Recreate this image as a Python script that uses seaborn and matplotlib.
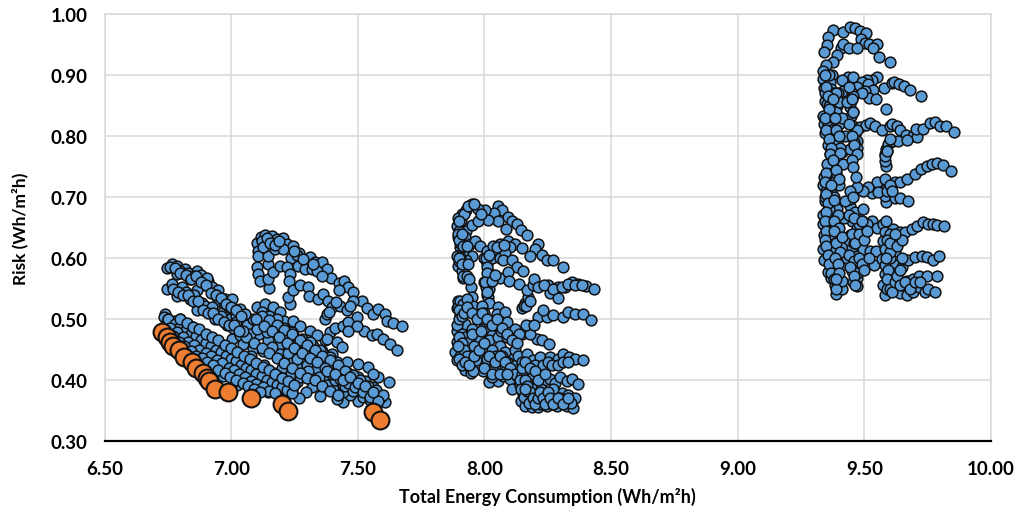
import numpy as np
import pandas as pd
import matplotlib
matplotlib.use("Agg")
import matplotlib.pyplot as plt
import seaborn as sns

# Cluster A, about 7 Wh/m2h: upper block
a_upper_x = [7.101,7.107,7.107,7.116,7.134,7.16,7.182,7.203,7.219,7.245,7.269,7.311,7.331,7.357,7.377,7.393,7.426,7.445,7.462,7.482,7.515,7.535,7.561,7.581,7.607,7.616,7.64,7.673,
 7.103,7.107,7.114,7.151,7.147,7.147,7.147,7.173,7.206,7.235,7.259,7.166,7.193,7.219,7.232,7.23,7.265,7.291,7.318,7.338,7.357,7.427,
 7.232,7.226,7.245,7.272,7.305,7.309,7.344,7.364,7.384,7.12,7.125,7.14,7.155,7.175,7.19,7.25,7.285,7.325]
a_upper_y = [0.625,0.612,0.604,0.634,0.638,0.636,0.631,0.632,0.623,0.619,0.609,0.601,0.593,0.594,0.582,0.568,0.559,0.563,0.552,0.544,0.53,0.518,0.509,0.516,0.508,0.497,0.493,0.488,
 0.585,0.574,0.563,0.551,0.566,0.59,0.604,0.615,0.614,0.6,0.605,0.577,0.587,0.585,0.574,0.563,0.587,0.582,0.582,0.579,0.571,0.547,
 0.525,0.536,0.547,0.555,0.552,0.538,0.533,0.541,0.53,0.628,0.618,0.632,0.625,0.622,0.628,0.612,0.598,0.59]
a_arm_x = [7.37,7.377,7.397,7.43,7.482,7.456,7.495,7.524,7.555,7.574,7.601,7.627,7.656,7.37,7.39,7.41,7.443,7.463,7.495,7.463,7.385,7.415,7.47]
a_arm_y = [0.5,0.508,0.519,0.522,0.53,0.514,0.503,0.481,0.473,0.476,0.467,0.459,0.449,0.465,0.478,0.486,0.489,0.495,0.489,0.481,0.512,0.528,0.522]
# Cluster A: middle block
a_mid_x = [7.101,7.134,7.166,7.193,7.208,7.243,7.272,7.311,7.337,7.377,7.416,7.436,7.397,7.114,7.147,7.061,7.111,7.147,7.186,7.226,7.226,7.265,7.291,7.193,7.193,7.226,7.259,7.291,7.324,7.364,7.357,7.361,7.351,7.318,7.295,7.269,7.259,7.397,7.416,7.456,7.502,7.541,7.581,7.624,7.561,7.535,7.515,7.574,7.607,7.502,7.443,7.416,7.469,7.43,7.39,7.469,7.377,7.43,7.495,
 7.002,7.035,7.074,7.048,7.087,7.127,7.16,7.087,7.101,7.14,7.166,7.206,7.245,7.259,7.298,7.324,7.357,7.226,7.259,7.298,7.337,7.37,7.403,7.403,7.443,
 7.12,7.15,7.18,7.21,7.24,7.28,7.31,7.35,7.39,7.42,7.46,7.5,7.53,7.56,7.59,7.08,7.13,7.17,7.2,7.235,7.27,7.305,7.345,7.38,7.41,7.45,7.48,7.52,7.55]
a_mid_y = [0.519,0.525,0.519,0.511,0.497,0.496,0.488,0.481,0.473,0.467,0.462,0.454,0.443,0.495,0.492,0.49,0.476,0.465,0.473,0.481,0.462,0.462,0.454,0.459,0.443,0.432,0.421,0.443,0.437,0.429,0.407,0.396,0.373,0.388,0.38,0.371,0.396,0.418,0.429,0.429,0.426,0.421,0.405,0.396,0.41,0.388,0.38,0.377,0.364,0.365,0.364,0.369,0.375,0.394,0.396,0.396,0.41,0.413,0.385,
 0.467,0.473,0.476,0.459,0.451,0.448,0.454,0.5,0.484,0.478,0.484,0.47,0.473,0.448,0.465,0.456,0.448,0.445,0.435,0.424,0.418,0.402,0.407,0.385,0.38,
 0.512,0.505,0.5,0.485,0.478,0.468,0.463,0.45,0.437,0.42,0.412,0.405,0.398,0.388,0.372,0.44,0.425,0.412,0.42,0.41,0.405,0.415,0.405,0.392,0.4,0.39,0.382,0.372,0.368]
a_mid2_x = [7.12,7.15,7.18,7.21,7.24,7.27,7.3,7.33,7.36,7.39,7.42,7.45,7.48,7.51,7.54,7.57,7.6,
 7.1,7.13,7.16,7.19,7.22,7.25,7.28,7.31,7.34,7.37,7.4,7.43,7.46,7.49,7.52,7.55,7.58,
 7.06,7.09,7.12,7.15,7.18,7.21,7.24,7.27,7.3,7.33,7.36,7.39,7.42,
 7.38,7.41,7.44,7.47,7.5,7.53,7.56]
a_mid2_y = [0.505,0.498,0.49,0.482,0.475,0.466,0.458,0.45,0.44,0.432,0.425,0.415,0.408,0.4,0.39,0.383,0.375,
 0.5,0.488,0.48,0.47,0.46,0.452,0.445,0.436,0.43,0.42,0.41,0.402,0.395,0.388,0.38,0.372,0.366,
 0.47,0.46,0.452,0.445,0.436,0.428,0.42,0.412,0.404,0.4,0.39,0.382,0.376,
 0.415,0.41,0.4,0.405,0.395,0.39,0.38]
# Cluster A: left upper arms
a_left_x = [6.745,6.765,6.785,6.787,6.818,6.837,6.864,6.91,6.89,6.864,6.923,6.949,6.976,7.002,7.035,7.055,6.745,6.765,6.785,6.805,6.837,6.864,6.883,6.91,6.936,6.969,6.995,7.008,6.949,
 6.76,6.8,6.83,6.85,6.88,6.905,6.94,6.97,6.99,7.02,6.82,6.855,6.895,6.925,6.96,6.985,7.02,7.045,
 6.78,6.8,6.82,6.84,6.86,6.88,6.9,6.92,6.94,6.96,6.98,7.0,7.02,7.04,
 6.77,6.79,6.81,6.83,6.85,6.87,6.89,6.91,6.93,6.95,6.97,6.99,7.01,7.03]
a_left_y = [0.583,0.59,0.587,0.574,0.582,0.565,0.579,0.563,0.555,0.547,0.552,0.547,0.533,0.533,0.516,0.508,0.549,0.558,0.538,0.552,0.533,0.514,0.527,0.514,0.5,0.511,0.5,0.486,0.53,
 0.585,0.578,0.575,0.57,0.572,0.568,0.54,0.527,0.52,0.505,0.545,0.54,0.522,0.52,0.505,0.49,0.495,0.48,
 0.583,0.575,0.572,0.565,0.57,0.56,0.555,0.543,0.54,0.535,0.525,0.52,0.515,0.505,
 0.55,0.545,0.54,0.54,0.53,0.53,0.515,0.51,0.51,0.5,0.495,0.49,0.49,0.48]
# Cluster A: lower long band
a_low_x = [6.739,6.735,6.778,6.811,6.831,6.851,6.857,6.89,6.903,6.949,6.989,6.989,6.949,7.035,7.068,7.094,7.12,7.147,7.173,7.186,7.212,7.239,7.035,7.022,7.074,
 6.772,6.798,6.824,6.87,6.91,6.956,6.995,7.035,7.081,7.127,7.16,6.791,6.831,6.877,6.923,6.969,7.015,7.061,6.752,6.758,6.798,6.837,6.877,6.916,6.969,7.008,7.055,7.094,7.14,7.18,7.206,
 6.745,6.765,6.785,6.805,6.825,6.85,6.87,6.89,6.915,6.935,6.96,6.98,7.0,7.02,7.05,7.075,7.1,7.13,7.155,6.84,6.86,6.885,6.9,6.93,6.945,6.975,7.0,7.02,7.045,7.07,7.105,7.12,7.16,7.195]
a_low_y = [0.508,0.503,0.497,0.489,0.476,0.456,0.478,0.47,0.448,0.448,0.443,0.424,0.418,0.429,0.415,0.396,0.414,0.38,0.396,0.407,0.396,0.383,0.396,0.391,0.385,
 0.484,0.476,0.465,0.448,0.435,0.429,0.407,0.413,0.402,0.391,0.388,0.467,0.446,0.429,0.418,0.407,0.399,0.394,0.5,0.489,0.5,0.489,0.478,0.462,0.445,0.435,0.429,0.418,0.407,0.385,0.385,
 0.495,0.49,0.48,0.472,0.462,0.455,0.442,0.435,0.425,0.415,0.418,0.428,0.42,0.41,0.405,0.41,0.405,0.398,0.395,0.46,0.465,0.452,0.44,0.44,0.43,0.435,0.44,0.43,0.42,0.425,0.41,0.4,0.402,0.39]
a_low2_x = [6.75,6.78,6.8,6.82,6.84,6.86,6.88,6.9,6.92,6.94,6.96,6.98,7.0,7.02,7.04,7.06,7.08,7.1,7.12,7.14,7.16,7.18,7.2,7.22,7.24,
 6.76,6.785,6.81,6.83,6.855,6.875,6.9,6.92,6.945,6.965,6.99,7.01,7.03,7.055,7.08,7.1,7.125,7.15,7.175,
 6.77,6.795,6.815,6.84,6.86,6.885,6.905,6.93,6.95,6.975,6.995,7.02,7.045,7.065,7.09,7.115,
 6.8,6.825,6.85,6.875,6.9,6.925,6.95,6.975,7.0,7.025,7.05,7.075,7.1,7.125,7.15,7.175,7.2,7.225,7.25]
a_low2_y = [0.5,0.492,0.487,0.482,0.476,0.472,0.466,0.46,0.455,0.45,0.446,0.44,0.435,0.431,0.425,0.42,0.416,0.41,0.406,0.4,0.397,0.392,0.388,0.383,0.379,
 0.486,0.478,0.47,0.463,0.457,0.45,0.444,0.44,0.433,0.428,0.42,0.416,0.41,0.405,0.398,0.393,0.388,0.382,0.378,
 0.472,0.463,0.455,0.448,0.44,0.436,0.43,0.424,0.417,0.412,0.405,0.4,0.395,0.39,0.386,0.38,
 0.5,0.493,0.487,0.483,0.476,0.47,0.465,0.458,0.452,0.446,0.44,0.435,0.428,0.422,0.416,0.41,0.404,0.398,0.392]
# Cluster B, about 8 Wh/m2h
b_top_x = [8.055,8.068,8.094,8.107,8.127,8.143,8.169,8.085,8.039,8.052,8.015,8.002,7.973,7.95,7.927,7.91,7.897,7.89,7.897,7.903,7.89,7.897,7.917,7.947,7.923,7.927,7.949,7.976,7.923,7.943,7.963,7.982,7.95,7.917,7.927,
 7.9,7.908,7.92,7.935,7.96,7.985,7.905,7.915,7.9,7.91,7.905,7.92,
 7.9,7.895,7.9,7.91,7.915,7.93,7.9,7.91,7.915,7.93,7.935,7.94,8.0,8.01,8.02,8.0,8.02,8.01,8.03,8.04,8.06]
b_top_y = [0.685,0.679,0.667,0.661,0.656,0.646,0.637,0.648,0.674,0.66,0.663,0.679,0.68,0.689,0.678,0.672,0.665,0.652,0.634,0.618,0.604,0.587,0.568,0.553,0.607,0.645,0.654,0.66,0.634,0.623,0.628,0.62,0.604,0.582,0.596,
 0.645,0.66,0.672,0.685,0.688,0.672,0.625,0.612,0.595,0.578,0.602,0.62,
 0.66,0.64,0.63,0.64,0.62,0.62,0.6,0.59,0.57,0.57,0.59,0.565,0.6,0.59,0.575,0.56,0.55,0.54,0.6,0.615,0.6]
b_mid_x = [8.009,8.035,8.061,8.094,8.121,8.147,8.1,8.081,8.074,8.107,8.127,8.153,8.213,8.2,8.18,8.226,8.246,8.272,8.311,8.006,8.009,8.019,8.006,8.015,8.019,8.061,8.094,8.098,8.138,
 8.15,8.16,8.173,8.167,8.193,8.196,8.213,8.252,8.259,8.292,8.292,8.318,8.344,8.371,8.401,8.432,
 8.02,8.05,8.078,8.01,8.003,8.012,8.03,8.04,8.155,8.165,8.18,8.235,8.27,8.305,8.33,8.358,8.385]
b_mid_y = [0.612,0.62,0.623,0.628,0.623,0.616,0.618,0.608,0.596,0.596,0.585,0.579,0.623,0.614,0.604,0.605,0.597,0.596,0.586,0.6,0.585,0.57,0.552,0.536,0.526,0.568,0.577,0.563,0.557,
 0.518,0.527,0.536,0.548,0.555,0.566,0.552,0.555,0.543,0.552,0.534,0.552,0.56,0.557,0.554,0.549,
 0.605,0.618,0.622,0.575,0.56,0.545,0.562,0.572,0.522,0.522,0.53,0.556,0.55,0.553,0.558,0.555,0.556]
b_low_x = [8.147,8.16,8.18,8.213,8.246,8.272,8.309,8.331,8.357,8.388,8.419,8.206,8.226,8.256,8.18,
 7.897,7.89,7.903,7.923,7.949,7.89,7.884,7.89,7.923,7.946,7.917,7.943,7.923,7.89,7.949,7.956,7.989,8.055,8.048,8.081,8.022,8.0,8.015,8.028,7.982,8.019,8.055,8.088,8.121,8.061,8.107,8.081,8.015,8.019,7.963,7.982,8.019,8.019,8.055,8.055,8.074,8.1,8.107,8.13,
 7.895,7.905,7.915,7.93,7.89,7.9,7.91,7.925,7.94,7.96,7.975,7.995,8.01,8.03,8.045,8.07,8.09,7.995,8.03,8.05,8.08,8.105,8.125,8.04,8.065,8.09,8.0,7.97,7.905,7.93,7.955,7.965,8.01,8.035,8.12,8.135,8.165,8.195,8.23,7.95,7.985,8.0,
 7.9,7.91,7.92,7.9,7.91,7.92,7.93,7.895,7.9,7.91,7.925,7.94,7.96,7.98,8.0,8.02,8.04,8.06,8.08,8.1,8.12,8.14,8.0,8.03,8.06,8.09,7.93,7.95,7.97,7.99,8.01,8.03,8.05,8.07,8.09,8.11,8.13]
b_low_y = [0.476,0.481,0.489,0.503,0.503,0.507,0.503,0.511,0.508,0.508,0.499,0.467,0.465,0.459,0.476,
 0.53,0.518,0.506,0.492,0.484,0.481,0.446,0.432,0.416,0.411,0.429,0.446,0.456,0.462,0.536,0.522,0.522,0.519,0.508,0.511,0.495,0.486,0.481,0.473,0.465,0.465,0.47,0.495,0.484,0.456,0.443,0.446,0.446,0.429,0.426,0.435,0.413,0.397,0.429,0.399,0.407,0.401,0.386,0.407,
 0.52,0.53,0.525,0.532,0.49,0.5,0.475,0.47,0.462,0.455,0.44,0.435,0.45,0.45,0.44,0.44,0.43,0.415,0.405,0.418,0.425,0.418,0.425,0.49,0.48,0.47,0.5,0.505,0.44,0.425,0.415,0.432,0.435,0.415,0.45,0.475,0.49,0.49,0.515,0.475,0.48,0.51,
 0.515,0.505,0.51,0.47,0.46,0.45,0.44,0.455,0.435,0.425,0.43,0.425,0.44,0.45,0.46,0.44,0.43,0.44,0.43,0.42,0.41,0.4,0.42,0.41,0.41,0.41,0.52,0.51,0.5,0.51,0.5,0.49,0.5,0.485,0.475,0.465,0.46]
b_base_x = [8.147,8.134,8.167,8.193,8.219,8.235,8.259,8.292,8.311,8.335,8.357,8.388,
 8.147,8.153,8.14,8.151,8.143,8.16,8.186,8.18,8.206,8.232,8.259,8.278,8.298,8.325,8.344,8.371,
 8.193,8.219,8.246,8.278,8.305,8.331,8.357,8.213,8.246,8.285,8.325,8.351,8.167,8.18,8.206,8.193,
 8.14,8.15,8.16,8.17,8.18,8.19,8.2,8.215,8.23,8.25,8.265,8.29,8.31,8.33,8.145,8.155,8.17,8.175,8.2,8.22,8.24,8.26,8.27,8.3,8.34,8.17,8.19,8.205,8.225,8.27,8.3,
 8.16,8.17,8.18,8.19,8.2,8.21,8.22,8.23,8.24,8.25,8.26,8.27,8.29,8.31,8.33,8.15,8.16,8.18,8.2,8.21,8.24,8.16]
b_base_y = [0.426,0.44,0.443,0.432,0.437,0.418,0.437,0.435,0.442,0.437,0.435,0.433,
 0.41,0.394,0.391,0.377,0.366,0.358,0.355,0.391,0.399,0.399,0.402,0.395,0.405,0.399,0.401,0.394,
 0.372,0.369,0.372,0.375,0.379,0.376,0.371,0.355,0.358,0.358,0.358,0.354,0.369,0.377,0.38,0.385,
 0.4,0.43,0.42,0.41,0.403,0.415,0.425,0.412,0.425,0.43,0.425,0.425,0.43,0.43,0.385,0.372,0.382,0.362,0.365,0.36,0.365,0.362,0.385,0.365,0.362,0.4,0.41,0.375,0.385,0.36,0.37,
 0.4,0.39,0.38,0.37,0.36,0.37,0.38,0.37,0.36,0.38,0.37,0.36,0.37,0.36,0.37,0.42,0.43,0.42,0.415,0.4,0.41,0.385]
# Cluster C, about 9.5 Wh/m2h
c_top_x = [9.375,9.358,9.351,9.341,9.417,9.443,9.463,9.483,9.507,9.486,9.503,9.52,9.55,9.535,9.558,9.601,9.407,9.417,9.439,9.472,9.391,9.378,9.349,9.338,
 9.434,9.457,9.41,9.371,9.549,9.529,9.509,9.489,9.472,9.516,9.533,9.503,9.518,9.546,9.586,9.578,9.608,9.618,9.638,9.657,9.68,9.722,
 9.338,9.341,9.345,9.338,9.341,9.345,9.358,9.364,9.354,9.364,9.371,9.384,9.391,9.378,9.41,9.364,9.367,9.378,9.391,9.388,
 9.417,9.45,9.446,9.443,9.447,9.454,9.463,9.47,9.443,9.47,
 9.483,9.505,9.522,9.542,9.571,9.601,9.608,9.628,9.641,9.664,9.693,9.707,9.704,9.733,9.759,9.779,9.799,9.821,9.855,
 9.582,9.585,9.595,9.614,9.634,9.667,
 9.395,9.4,9.355,9.37,9.38,9.4,9.425,9.36,9.375,9.39,9.41,9.43,9.455,9.46,9.47,9.49,9.455,9.39,9.405,9.345,9.36,
 9.345,9.35,9.355,9.36,9.345,9.35,9.36,9.37,9.375,9.385,9.39,9.4,9.44,9.45,9.455,9.44,9.45,9.46,9.47,9.6,9.59]
c_top_y = [0.974,0.962,0.949,0.937,0.971,0.979,0.977,0.972,0.969,0.959,0.953,0.951,0.951,0.944,0.93,0.922,0.945,0.951,0.945,0.944,0.932,0.921,0.916,0.907,
 0.897,0.896,0.891,0.9,0.896,0.891,0.892,0.888,0.881,0.885,0.875,0.874,0.863,0.861,0.845,0.879,0.887,0.889,0.885,0.882,0.875,0.866,
 0.893,0.878,0.858,0.833,0.82,0.805,0.785,0.77,0.852,0.84,0.82,0.803,0.792,0.773,0.773,0.889,0.877,0.863,0.85,0.839,
 0.874,0.871,0.858,0.847,0.832,0.816,0.803,0.792,0.779,0.78,
 0.814,0.818,0.822,0.817,0.81,0.816,0.82,0.816,0.81,0.802,0.8,0.798,0.811,0.812,0.821,0.823,0.817,0.816,0.807,
 0.77,0.779,0.787,0.791,0.792,0.794,
 0.87,0.855,0.82,0.81,0.83,0.82,0.8,0.9,0.87,0.87,0.83,0.855,0.84,0.79,0.81,0.87,0.865,0.81,0.78,0.87,0.85,
 0.9,0.88,0.865,0.845,0.83,0.81,0.795,0.78,0.86,0.83,0.81,0.8,0.88,0.86,0.84,0.82,0.8,0.785,0.77,0.795,0.775]
c_low_x = [9.586,9.582,9.586,9.601,9.621,9.641,9.667,9.7,9.724,9.746,9.766,9.788,9.809,9.842,9.549,9.529,9.555,9.516,9.496,9.472,9.621,9.641,9.671,
 9.586,9.582,9.582,9.59,
 9.341,9.338,9.345,9.335,9.338,9.341,9.338,9.341,9.358,9.367,9.384,9.388,9.41,9.41,9.384,9.41,9.371,9.364,9.391,9.358,9.371,9.367,9.358,9.391,9.371,9.384,9.388,9.384,9.351,9.364,9.404,9.417,9.45,9.456,9.467,
 9.443,9.443,9.424,9.463,9.496,9.45,9.47,9.443,9.47,9.417,9.45,9.47,9.472,9.45,9.472,9.472,9.456,9.496,9.522,9.546,9.538,9.529,9.549,9.503,
 9.575,9.582,9.575,9.582,9.568,9.582,9.582,9.575,9.582,9.608,9.621,9.647,9.621,
 9.614,9.641,9.661,9.687,9.707,9.733,9.753,9.772,9.786,9.814,
 9.654,9.674,9.7,9.726,9.746,9.77,9.796,9.667,9.693,9.717,9.746,9.786,9.641,9.667,9.693,9.717,9.74,9.753,9.779,
 9.35,9.36,9.37,9.38,9.355,9.365,9.375,9.39,9.345,9.36,9.38,9.4,9.42,9.44,9.46,9.48,9.43,9.45,9.47,9.49,9.51,9.6,9.6,9.61,9.63,9.65,9.62,9.6,9.59,9.6]
c_low_y = [0.691,0.702,0.713,0.721,0.725,0.724,0.73,0.738,0.746,0.751,0.754,0.756,0.752,0.742,0.725,0.707,0.708,0.716,0.71,0.717,0.699,0.698,0.694,
 0.751,0.759,0.768,0.776,
 0.732,0.719,0.694,0.67,0.656,0.637,0.615,0.596,0.577,0.568,0.555,0.541,0.549,0.563,0.582,0.588,0.601,0.615,0.628,0.634,0.653,0.667,0.678,0.68,0.705,0.727,0.739,0.754,0.754,0.77,0.772,0.754,0.76,0.749,0.732,
 0.686,0.697,0.694,0.675,0.68,0.661,0.65,0.637,0.634,0.62,0.618,0.604,0.59,0.579,0.568,0.554,0.56,0.615,0.612,0.612,0.588,0.661,0.65,0.656,
 0.656,0.642,0.628,0.615,0.598,0.588,0.574,0.555,0.54,0.566,0.588,0.585,0.612,
 0.648,0.642,0.642,0.648,0.652,0.659,0.656,0.656,0.654,0.652,
 0.598,0.596,0.601,0.604,0.601,0.597,0.604,0.563,0.566,0.571,0.571,0.571,0.543,0.54,0.545,0.552,0.545,0.549,0.544,
 0.71,0.68,0.645,0.625,0.665,0.64,0.61,0.59,0.7,0.72,0.7,0.72,0.665,0.63,0.625,0.655,0.6,0.585,0.575,0.66,0.655,0.56,0.6,0.575,0.56,0.555,0.63,0.64,0.55,0.61]
c_fill_x = [9.35,9.345,9.35,9.355,9.35,9.345,9.35,9.345,9.35,9.355,9.36,9.37,9.38,9.39,
 9.375,9.39,9.4,9.37,9.38,9.395,9.38,9.4,9.38,9.39,9.405,9.385,9.395,9.4,9.39,9.41,
 9.445,9.455,9.44,9.46,9.45,9.465,9.44,9.46,9.445,9.46,9.465,9.48,9.49,9.5,9.48,9.5,9.52,9.49,9.51,
 9.58,9.59,9.6,9.61,9.585,9.59,9.6,9.585,9.595,9.59,9.6,9.61,9.62,9.63,9.64,9.65,9.63,9.65,9.62,9.64,9.66,9.68,9.7,9.72]
c_fill_y = [0.74,0.725,0.705,0.69,0.675,0.66,0.645,0.63,0.62,0.605,0.59,0.575,0.565,0.55,
 0.76,0.745,0.73,0.72,0.695,0.67,0.66,0.65,0.645,0.625,0.61,0.6,0.59,0.575,0.565,0.635,
 0.71,0.7,0.67,0.665,0.64,0.625,0.605,0.595,0.585,0.57,0.555,0.6,0.59,0.58,0.64,0.63,0.6,0.66,0.645,
 0.73,0.71,0.72,0.71,0.66,0.63,0.625,0.6,0.58,0.565,0.55,0.545,0.56,0.57,0.58,0.6,0.62,0.63,0.64,0.555,0.56,0.55,0.56,0.56]
# Highlighted (orange) front
front_x = [6.728,6.745,6.758,6.772,6.795,6.815,6.844,6.861,6.887,6.903,6.914,6.936,6.986,7.078,7.199,7.226,7.559,7.588]
front_y = [0.478,0.47,0.462,0.456,0.449,0.437,0.429,0.419,0.412,0.403,0.399,0.385,0.381,0.37,0.361,0.35,0.348,0.335]

x_ticks = [6.5,7.0,7.5,8.0,8.5,9.0,9.5,10.0]
y_ticks = [0.3,0.4,0.5,0.6,0.7,0.8,0.9,1.0]
x_label = "Total Energy Consumption (Wh/m²h)"
y_label = "Risk (Wh/m²h)"

sns.set_theme(style="white")
plt.rcParams['font.family'] = ['Lato', 'DejaVu Sans']

blue_x = a_upper_x + a_arm_x + a_mid_x + a_mid2_x + a_left_x + a_low_x + a_low2_x + b_top_x + b_mid_x + b_low_x + b_base_x + c_top_x + c_low_x + c_fill_x
blue_y = a_upper_y + a_arm_y + a_mid_y + a_mid2_y + a_left_y + a_low_y + a_low2_y + b_top_y + b_mid_y + b_low_y + b_base_y + c_top_y + c_low_y + c_fill_y
df_blue = pd.DataFrame({"x": blue_x, "y": blue_y})
df_front = pd.DataFrame({"x": front_x, "y": front_y})

fig = plt.figure(figsize=(10.19, 5.10), dpi=100)
ax = fig.add_axes([104.5/1019, 1-442/510, (991-104.5)/1019, (442-15)/510])

sns.scatterplot(data=df_blue, x="x", y="y", ax=ax, s=60, color="#5B9BD5",
                edgecolor="#111111", linewidth=1.1, clip_on=False, zorder=3)
sns.scatterplot(data=df_front, x="x", y="y", ax=ax, s=165, color="#ED7D31",
                edgecolor="#111111", linewidth=1.5, clip_on=False, zorder=4)

ax.set_xlim(6.5, 10.0)
ax.set_ylim(0.3, 1.0)
ax.set_xticks(x_ticks)
ax.set_yticks(y_ticks)
ax.set_xticklabels([f"{v:.2f}" for v in x_ticks], fontweight="bold", fontsize=13.5, color="black")
ax.set_yticklabels([f"{v:.2f}" for v in y_ticks], fontweight="bold", fontsize=13.5, color="black")
ax.grid(True, color="#D9D9D9", linewidth=1.1)
ax.set_axisbelow(True)
ax.tick_params(axis="x", length=0, pad=14)
ax.tick_params(axis="y", length=0, pad=12)
for side in ("top", "right", "left"):
    ax.spines[side].set_color("#D9D9D9")
    ax.spines[side].set_linewidth(1.1)
    ax.spines[side].set_visible(True)
ax.spines["bottom"].set_color("black")
ax.spines["bottom"].set_linewidth(1.6)
ax.spines["bottom"].set_zorder(2.5)
ax.set_xlabel(x_label, fontweight="bold", fontsize=13, color="black", labelpad=7)
ax.set_ylabel(y_label, fontweight="bold", fontsize=12.5, color="black", labelpad=16)
fig.savefig("out.png", dpi=100)
